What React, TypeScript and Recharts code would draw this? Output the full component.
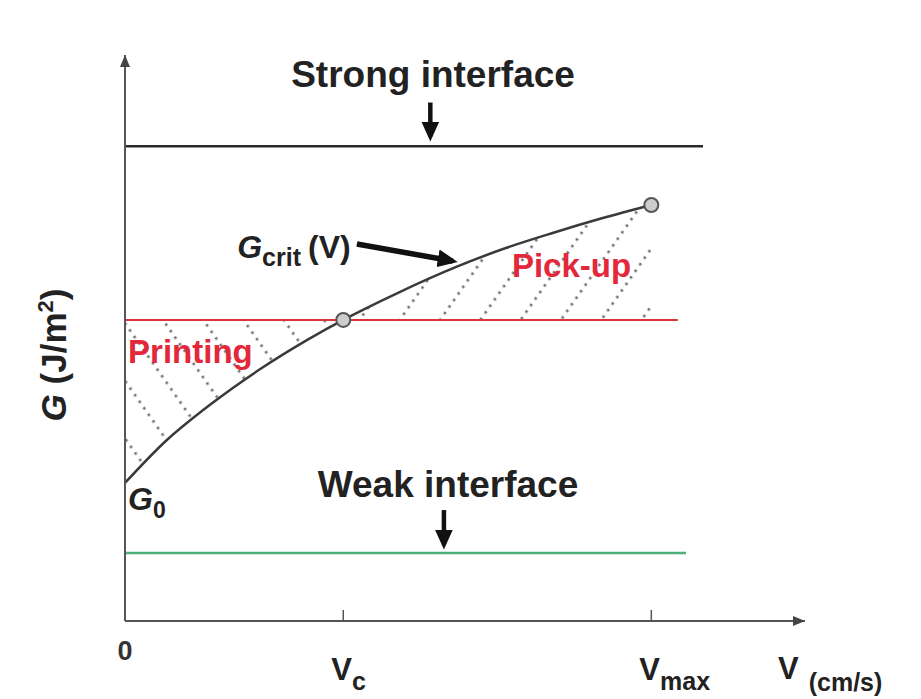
import {
  Area,
  ComposedChart,
  Line,
  ReferenceDot,
  ReferenceLine,
  Scatter,
  XAxis,
  YAxis,
} from 'recharts';

const FONT = '"Liberation Sans", Arial, Helvetica, sans-serif';

// peel speed v (axis units, 0..100) and critical energy release rate G_crit(v)
const speeds = [0, 6, 12.5, 20, 27, 32.1, 40, 48.8, 56, 63, 70, 77.4];
const gCrit = [24.4, 31.8, 38.2, 44.6, 49.8, 53.2, 57.9, 62.6, 65.9, 68.6, 71.1, 73.5];

const V_C = 32.1;
const V_MAX = 77.4;

// interface levels and where each line stops
const G_STRONG = 83.9;
const G_PRINT = 53.2;
const G_WEAK = 12;
const STRONG_END = 85;
const PRINT_END = 81.3;
const WEAK_END = 82.5;

const xTicks = [0, V_C, V_MAX];
const xTickMain = ['0', 'V', 'V'];
const xTickSub = ['', 'c', 'max'];

const markerSpeeds = [V_C, V_MAX];

const rows = speeds.map((v, i) => ({
  v,
  g: gCrit[i],
  printing: v <= V_C ? [gCrit[i], G_PRINT] : null,
  pickup: v >= V_C ? [G_PRINT, gCrit[i]] : null,
}));

const markers = markerSpeeds.map((v) => ({ v, g: gCrit[speeds.indexOf(v)] }));

const SpeedTick = (props: any) => {
  const { x, y, payload } = props;
  const i = xTicks.indexOf(payload.value);
  if (i <= 0) {
    return (
      <text x={x} y={y + 39} textAnchor="middle" fontSize={27} fontWeight="bold" fill="#333" fontFamily={FONT}>
        {xTickMain[0]}
      </text>
    );
  }
  return (
    <g>
      <line x1={x} y1={y} x2={x} y2={y - 11} stroke="#555" strokeWidth={1.5} />
      <text x={x - 12} y={y + 59} fontSize={31} fontWeight="bold" fill="#222" fontFamily={FONT}>
        {xTickMain[i]}
        <tspan dy={10} fontSize={25}>
          {xTickSub[i]}
        </tspan>
      </text>
    </g>
  );
};

const XTitle = (props: any) => {
  const { x, y, width } = props.viewBox;
  return (
    <text x={x + width - 27} y={y + 58} fontSize={31} fontWeight="bold" fill="#222" fontFamily={FONT}>
      V
      <tspan dx={10} dy={12} fontSize={25}>
        (cm/s)
      </tspan>
    </text>
  );
};

const YTitle = (props: any) => {
  const { y } = props.viewBox;
  const cx = 66;
  const cy = y + 300;
  return (
    <text
      x={cx}
      y={cy}
      transform={`rotate(-90, ${cx}, ${cy})`}
      textAnchor="middle"
      fontSize={35}
      fontWeight="bold"
      fill="#222"
      fontFamily={FONT}
    >
      <tspan fontStyle="italic">G</tspan> (J/m
      <tspan dy={-13} fontSize={22}>
        2
      </tspan>
      <tspan dy={13}>)</tspan>
    </text>
  );
};

const textAt = (content: (x: number, y: number) => any) => (p: any) => content(p.viewBox.x, p.viewBox.y);

const bold = { fontWeight: 'bold' as const, fontFamily: FONT };

export default function App() {
  return (
    <div style={{ position: 'absolute', left: 0, top: 0, background: '#fff' }}>
      <ComposedChart width={921} height={699} data={rows} margin={{ top: 55, right: 116, left: 0, bottom: 0 }}>
        <defs>
          <marker
            id="axisHead"
            viewBox="0 0 12 10"
            refX={12}
            refY={5}
            markerWidth={12}
            markerHeight={10}
            markerUnits="userSpaceOnUse"
            orient="auto-start-reverse"
          >
            <path d="M0,0 L12,5 L0,10 z" fill="#444" />
          </marker>
          <marker
            id="bigHead"
            viewBox="0 0 20 18"
            refX={15}
            refY={9}
            markerWidth={20}
            markerHeight={18}
            markerUnits="userSpaceOnUse"
            orient="auto"
          >
            <path d="M0,0 L20,9 L0,18 z" fill="#111" />
          </marker>
          <pattern id="hatchPrint" patternUnits="userSpaceOnUse" width={33} height={8} patternTransform="rotate(-35)">
            <line x1={16} y1={0} x2={16} y2={8} stroke="#6e6e6e" strokeWidth={2.6} strokeDasharray="2.5 5.5" />
          </pattern>
          <pattern id="hatchPick" patternUnits="userSpaceOnUse" width={33} height={8} patternTransform="rotate(35)">
            <line x1={16} y1={0} x2={16} y2={8} stroke="#6e6e6e" strokeWidth={2.6} strokeDasharray="2.5 5.5" />
          </pattern>
        </defs>

        <XAxis
          type="number"
          dataKey="v"
          domain={[0, 100]}
          allowDataOverflow
          ticks={xTicks}
          interval={0}
          height={78}
          tickSize={0}
          tickMargin={0}
          tickLine={false}
          tick={SpeedTick}
          axisLine={{ stroke: '#555', strokeWidth: 2, markerEnd: 'url(#axisHead)' }}
          label={{ content: XTitle }}
        />
        <YAxis
          type="number"
          domain={[0, 100]}
          allowDataOverflow
          width={125}
          tick={false}
          tickLine={false}
          axisLine={{ stroke: '#555', strokeWidth: 2, markerStart: 'url(#axisHead)' }}
          label={{ content: YTitle }}
        />

        <Area
          type="monotone"
          dataKey="printing"
          stroke="none"
          fill="url(#hatchPrint)"
          fillOpacity={1}
          isAnimationActive={false}
        />
        <Area
          type="monotone"
          dataKey="pickup"
          stroke="none"
          fill="url(#hatchPick)"
          fillOpacity={1}
          isAnimationActive={false}
        />

        <ReferenceLine
          segment={[{ x: 0, y: G_STRONG }, { x: STRONG_END, y: G_STRONG }]}
          stroke="#2b2b2b"
          strokeWidth={2.5}
        />
        <ReferenceLine
          segment={[{ x: 0, y: G_PRINT }, { x: PRINT_END, y: G_PRINT }]}
          stroke="#d8353c"
          strokeWidth={2}
        />
        <ReferenceLine
          segment={[{ x: 0, y: G_WEAK }, { x: WEAK_END, y: G_WEAK }]}
          stroke="#4fb07c"
          strokeWidth={2.5}
        />

        {/* annotation arrows */}
        <ReferenceLine
          segment={[{ x: 44.9, y: 91.6 }, { x: 44.9, y: 85.6 }]}
          stroke="#111"
          strokeWidth={4.5}
          markerEnd="url(#bigHead)"
        />
        <ReferenceLine
          segment={[{ x: 46.9, y: 19.6 }, { x: 46.9, y: 13.5 }]}
          stroke="#111"
          strokeWidth={4.5}
          markerEnd="url(#bigHead)"
        />
        <ReferenceLine
          segment={[{ x: 34.1, y: 66.6 }, { x: 48.2, y: 63.6 }]}
          stroke="#111"
          strokeWidth={5.5}
          markerEnd="url(#bigHead)"
        />

        <Line
          type="monotone"
          dataKey="g"
          stroke="#3a3a3a"
          strokeWidth={2.5}
          dot={false}
          activeDot={false}
          isAnimationActive={false}
        />
        <Scatter
          data={markers}
          dataKey="g"
          isAnimationActive={false}
          shape={(p: any) => <circle cx={p.cx} cy={p.cy} r={7} fill="#cdcdcd" stroke="#555" strokeWidth={2} />}
        />

        {/* text annotations */}
        <ReferenceDot
          x={45.3}
          y={94.3}
          r={0}
          stroke="none"
          fill="none"
          label={textAt((x, y) => (
            <text x={x} y={y} textAnchor="middle" fontSize={37} fill="#222" {...bold}>
              Strong interface
            </text>
          ))}
        />
        <ReferenceDot
          x={47.5}
          y={21.9}
          r={0}
          stroke="none"
          fill="none"
          label={textAt((x, y) => (
            <text x={x} y={y} textAnchor="middle" fontSize={37} fill="#222" {...bold}>
              Weak interface
            </text>
          ))}
        />
        <ReferenceDot
          x={0.45}
          y={45.6}
          r={0}
          stroke="none"
          fill="none"
          label={textAt((x, y) => (
            <text x={x} y={y} fontSize={33} fill="#e2283a" {...bold}>
              Printing
            </text>
          ))}
        />
        <ReferenceDot
          x={56.9}
          y={60.8}
          r={0}
          stroke="none"
          fill="none"
          label={textAt((x, y) => (
            <text x={x} y={y} fontSize={33} fill="#e2283a" {...bold}>
              Pick-up
            </text>
          ))}
        />
        <ReferenceDot
          x={16.5}
          y={64.1}
          r={0}
          stroke="none"
          fill="none"
          label={textAt((x, y) => (
            <text x={x} y={y} fontSize={32} fill="#222" {...bold}>
              <tspan fontStyle="italic">G</tspan>
              <tspan dy={8} fontSize={25}>
                crit
              </tspan>
              <tspan dy={-8} dx={7}>
                (V)
              </tspan>
            </text>
          ))}
        />
        <ReferenceDot
          x={0.45}
          y={19.6}
          r={0}
          stroke="none"
          fill="none"
          label={textAt((x, y) => (
            <text x={x} y={y} fontSize={32} fill="#222" {...bold}>
              <tspan fontStyle="italic">G</tspan>
              <tspan dy={8} fontSize={23}>
                0
              </tspan>
            </text>
          ))}
        />
      </ComposedChart>
    </div>
  );
}
